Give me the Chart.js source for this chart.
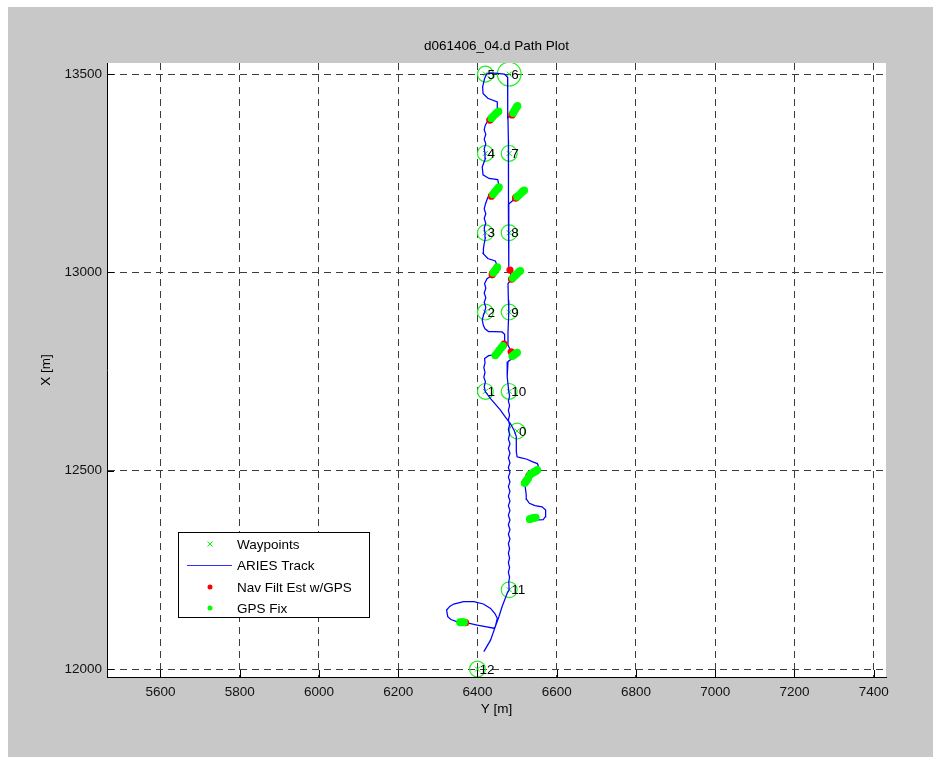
<!DOCTYPE html>
<html>
<head>
<meta charset="utf-8">
<script src="https://cdn.jsdelivr.net/npm/chart.js@4/dist/chart.umd.min.js"></script>
<style>
  html, body { margin: 0; padding: 0; background: #fff; }
  canvas { display: block; }
</style>
</head>
<body>
<canvas id="pathPlot" width="933" height="757"></canvas>
<script>
// axis "Y [m]" is east, axis "X [m]" is north
const titleText = 'd061406_04.d Path Plot';
const xTicks = [5600, 5800, 6000, 6200, 6400, 6600, 6800, 7000, 7200, 7400];
const yTicks = [12000, 12500, 13000, 13500];

const wpNames  = ['0', '1', '2', '3', '4', '5', '6', '7', '8', '9', '10', '11', '12'];
const wpEast   = [6500, 6420, 6420, 6420, 6420, 6420, 6480, 6480, 6480, 6480, 6480, 6480, 6400];
const wpNorth  = [12600, 12700, 12900, 13100, 13300, 13500, 13500, 13300, 13100, 12900, 12700, 12200, 12000];
const wpRadius = [20, 20, 20, 20, 20, 20, 30, 20, 20, 20, 20, 20, 20]; // metres

// ARIES track, [east, north]
const trackPath = [
  [6540,12380],[6548,12379],[6555,12376],[6566,12377],[6571,12384],[6572,12401],[6563,12409],[6545,12412],
  [6531,12418],[6524,12428],[6523,12440],[6521,12455],[6519,12468],[6528,12481],[6531,12489],[6553,12503],
  [6553,12514],[6551,12518],[6538,12523],[6525,12529],[6508,12533],[6500,12535],[6498,12548],[6498,12560],
  [6498,12586],[6492,12603],[6483,12619],[6470,12636],[6458,12653],[6445,12668],[6433,12682],[6420,12699],
  [6417,12712],[6420,12724],[6416,12736],[6419,12748],[6416,12760],[6419,12772],[6418,12783],[6428,12790],
  [6443,12792],[6468,12821],[6469,12836],[6468,12844],[6462,12850],[6440,12851],[6428,12851],[6419,12858],
  [6415,12866],[6412,12880],[6415,12892],[6418,12900],[6421,12912],[6417,12924],[6421,12936],[6417,12948],
  [6421,12960],[6418,12972],[6424,12984],[6437,12993],[6451,13014],[6445,13029],[6426,13035],[6414,13048],
  [6415,13060],[6417,13073],[6420,13087],[6419,13100],[6417,13112],[6421,13124],[6417,13136],[6421,13148],
  [6417,13160],[6420,13172],[6426,13189],[6435,13192],[6455,13216],[6451,13234],[6429,13237],[6414,13246],
  [6412,13266],[6420,13287],[6419,13300],[6417,13312],[6421,13324],[6417,13336],[6421,13348],[6417,13360],
  [6420,13372],[6425,13380],[6431,13384],[6454,13407],[6451,13414],[6450,13430],[6426,13439],[6414,13451],
  [6413,13468],[6418,13489],[6423,13500],[6433,13503],[6450,13502],[6468,13500],[6476,13492],
  [6477,13468],[6476,13430],[6476,13391],[6487,13397],[6476,13391],[6477,13384],[6478,13334],[6478,13300],
  [6479,13250],[6478,13182],[6478,13172],[6496,13187],[6478,13172],[6479,13166],[6479,13082],[6479,13014],
  [6482,13006],[6486,12982],[6477,12972],[6478,12930],[6479,12900],[6477,12850],[6477,12817],
  [6485,12800],[6490,12790],[6487,12783],[6477,12775],[6475,12737],[6479,12700],
  [6481,12688],[6478,12676],[6481,12664],[6478,12652],[6481,12640],[6478,12628],[6481,12616],[6478,12604],
  [6481,12592],[6478,12580],[6482,12568],[6478,12556],[6482,12544],[6478,12532],[6482,12520],[6478,12508],
  [6482,12496],[6478,12484],[6482,12472],[6478,12460],[6482,12448],[6478,12436],[6482,12424],[6478,12412],
  [6482,12400],[6478,12388],[6482,12376],[6478,12364],[6482,12352],[6478,12340],[6482,12328],[6478,12316],
  [6481,12304],[6478,12292],[6481,12280],[6478,12268],[6481,12256],[6478,12244],[6481,12232],[6479,12220],
  [6480,12200],[6475,12191],[6462,12157],[6454,12132],[6445,12107],[6441,12103],[6420,12107],[6399,12111],
  [6380,12115],[6370,12117],[6355,12118],[6349,12119],[6333,12125],[6325,12132],[6322,12149],[6330,12158],
  [6340,12164],[6365,12170],[6391,12170],[6415,12164],[6433,12153],[6444,12140],[6450,12128],[6445,12107],
  [6433,12073],[6416,12044]
];

// Nav filter estimates with GPS, [east, north]
const navPoints = [
  [6431,13384],[6433,13386],[6487,13397],[6488,13399],[6435,13192],[6436,13194],[6496,13187],[6497,13189],
  [6437,12994],[6438,12997],[6482,13006],[6486,12983],[6467,12819],[6485,12800],[6530,12488],[6535,12492],
  [6370,12117]
];

// GPS fixes, [east, north]
const gpsPoints = [
  [6435,13389],[6439,13393],[6444,13398],[6448,13402],[6453,13406],
  [6490,13402],[6493,13407],[6496,13412],[6499,13417],[6501,13420],
  [6439,13197],[6443,13202],[6447,13207],[6451,13211],[6454,13215],
  [6500,13191],[6505,13195],[6510,13200],[6514,13204],[6518,13207],
  [6440,12999],[6443,13003],[6446,13007],[6449,13011],[6450,13013],
  [6489,12986],[6494,12991],[6499,12996],[6504,13001],[6508,13004],
  [6445,12791],[6450,12797],[6455,12804],[6460,12810],[6464,12815],
  [6488,12789],[6492,12792],[6496,12795],[6500,12798],
  [6519,12469],[6522,12473],[6525,12477],[6528,12481],
  [6533,12491],[6538,12494],[6543,12497],[6547,12499],[6551,12502],
  [6532,12378],[6537,12380],[6542,12381],[6547,12382],
  [6356,12118],[6361,12118],[6366,12118]
];

const FONT = "'Liberation Sans', Arial, Helvetica, sans-serif";
const FONT_SIZE = 13.5;
const toXY = p => ({ x: p[0], y: p[1] });

const figurePlugin = {
  id: 'figure',
  beforeDraw(chart) {
    const { ctx, chartArea: a } = chart;
    ctx.save();
    ctx.fillStyle = '#ffffff';
    ctx.fillRect(0, 0, chart.width, chart.height);
    ctx.fillStyle = '#c8c8c8';
    ctx.fillRect(8, 7, chart.width - 8, chart.height - 7);
    ctx.fillStyle = '#ffffff';
    ctx.fillRect(a.left, a.top, a.right - a.left, a.bottom - a.top);
    ctx.restore();
  },
  afterDraw(chart) {
    const { ctx, chartArea: a, scales } = chart;
    ctx.save();
    // inward tick marks
    ctx.strokeStyle = '#000';
    ctx.lineWidth = 1;
    ctx.beginPath();
    scales.x.ticks.forEach(t => {
      const px = Math.round(scales.x.getPixelForValue(t.value)) + 0.5;
      ctx.moveTo(px, a.bottom); ctx.lineTo(px, a.bottom - 7);
    });
    scales.y.ticks.forEach(t => {
      const py = Math.round(scales.y.getPixelForValue(t.value)) + 0.5;
      ctx.moveTo(a.left, py); ctx.lineTo(a.left + 7, py);
    });
    ctx.stroke();

    // waypoint numbers
    ctx.fillStyle = '#000';
    ctx.font = FONT_SIZE + 'px ' + FONT;
    ctx.textAlign = 'left';
    ctx.textBaseline = 'middle';
    wpNames.forEach((name, i) => {
      ctx.fillText(name, scales.x.getPixelForValue(wpEast[i]) + 2, scales.y.getPixelForValue(wpNorth[i]) + 1);
    });

    // title and axis labels
    const cx = (a.left + a.right) / 2;
    ctx.textAlign = 'center';
    ctx.fillText(titleText, cx, 46);
    ctx.fillText('Y [m]', cx, 709);
    ctx.save();
    ctx.translate(46, (a.top + a.bottom) / 2);
    ctx.rotate(-Math.PI / 2);
    ctx.fillText('X [m]', 0, 0);
    ctx.restore();

    // legend
    const lx = 178.5, ly = 532.5, lw = 191, lh = 85;
    ctx.fillStyle = '#fff';
    ctx.fillRect(lx, ly, lw, lh);
    ctx.strokeStyle = '#000';
    ctx.strokeRect(lx, ly, lw, lh);
    const rows = [544, 565, 587, 608];
    const labels = ['Waypoints', 'ARIES Track', 'Nav Filt Est w/GPS', 'GPS Fix'];
    ctx.textAlign = 'left';
    ctx.fillStyle = '#000';
    labels.forEach((t, i) => ctx.fillText(t, 237, rows[i] + 1));
    // waypoint marker
    ctx.strokeStyle = '#00ff00';
    ctx.beginPath();
    ctx.moveTo(207.5, rows[0] - 2.5); ctx.lineTo(212.5, rows[0] + 2.5);
    ctx.moveTo(212.5, rows[0] - 2.5); ctx.lineTo(207.5, rows[0] + 2.5);
    ctx.stroke();
    // track line
    ctx.strokeStyle = '#3333ff';
    ctx.beginPath();
    ctx.moveTo(187, rows[1] + 0.5); ctx.lineTo(232, rows[1] + 0.5);
    ctx.stroke();
    // dots
    ctx.fillStyle = '#ff0000';
    ctx.beginPath(); ctx.arc(210, rows[2], 2.5, 0, Math.PI * 2); ctx.fill();
    ctx.fillStyle = '#00ff00';
    ctx.beginPath(); ctx.arc(210, rows[3], 2.5, 0, Math.PI * 2); ctx.fill();
    ctx.restore();
  }
};

const pxPerMetre = chart => {
  const s = chart.scales.x;
  return s ? Math.abs(s.getPixelForValue(1000) - s.getPixelForValue(0)) / 1000 : 0.396;
};

new Chart(document.getElementById('pathPlot'), {
  type: 'scatter',
  data: {
    datasets: [
      {
        label: 'GPS Fix',
        data: gpsPoints.map(toXY),
        pointRadius: 3.9,
        pointBackgroundColor: '#00ff00',
        pointBorderWidth: 0,
        order: 0
      },
      {
        label: 'Nav Filt Est w/GPS',
        data: navPoints.map(toXY),
        pointRadius: 3.6,
        pointBackgroundColor: '#ff0000',
        pointBorderWidth: 0,
        order: 1
      },
      {
        label: 'ARIES Track',
        data: trackPath.map(toXY),
        showLine: true,
        borderColor: '#0000ff',
        borderWidth: 1.25,
        pointRadius: 0,
        tension: 0,
        order: 2
      },
      {
        label: 'Waypoints',
        data: wpEast.map((e, i) => ({ x: e, y: wpNorth[i] })),
        pointStyle: 'crossRot',
        pointRadius: 3.5,
        pointBorderColor: '#00ee00',
        pointBorderWidth: 1,
        order: 3
      },
      {
        label: 'Waypoint radius',
        data: wpEast.map((e, i) => ({ x: e, y: wpNorth[i] })),
        pointStyle: 'circle',
        pointRadius: c => wpRadius[c.dataIndex] * pxPerMetre(c.chart),
        pointBackgroundColor: 'rgba(0,0,0,0)',
        pointBorderColor: '#22ee22',
        pointBorderWidth: 1.2,
        order: 4
      }
    ]
  },
  options: {
    responsive: false,
    animation: false,
    events: [],
    layout: { padding: { left: 0, top: 63, right: 47, bottom: 0 } },
    plugins: {
      legend: { display: false },
      tooltip: { enabled: false },
      title: { display: false }
    },
    scales: {
      x: {
        type: 'linear',
        min: 5465,
        max: 7431,
        afterFit: s => { s.height = 80; },
        afterBuildTicks: s => { s.ticks = xTicks.map(v => ({ value: v })); },
        ticks: {
          padding: 7,
          color: '#111',
          font: { family: FONT, size: FONT_SIZE },
          callback: v => String(v)
        },
        grid: { color: '#3c3c3c', lineWidth: 1, drawTicks: false },
        border: { display: true, color: '#000', width: 1, dash: [7, 5] }
      },
      y: {
        type: 'linear',
        min: 11980,
        max: 13528,
        afterFit: s => { s.width = 107; },
        afterBuildTicks: s => { s.ticks = yTicks.map(v => ({ value: v })); },
        ticks: {
          padding: 5,
          color: '#111',
          font: { family: FONT, size: FONT_SIZE },
          callback: v => String(v)
        },
        grid: { color: '#3c3c3c', lineWidth: 1, drawTicks: false },
        border: { display: true, color: '#000', width: 1, dash: [7, 5] }
      }
    }
  },
  plugins: [figurePlugin]
});
</script>
</body>
</html>
